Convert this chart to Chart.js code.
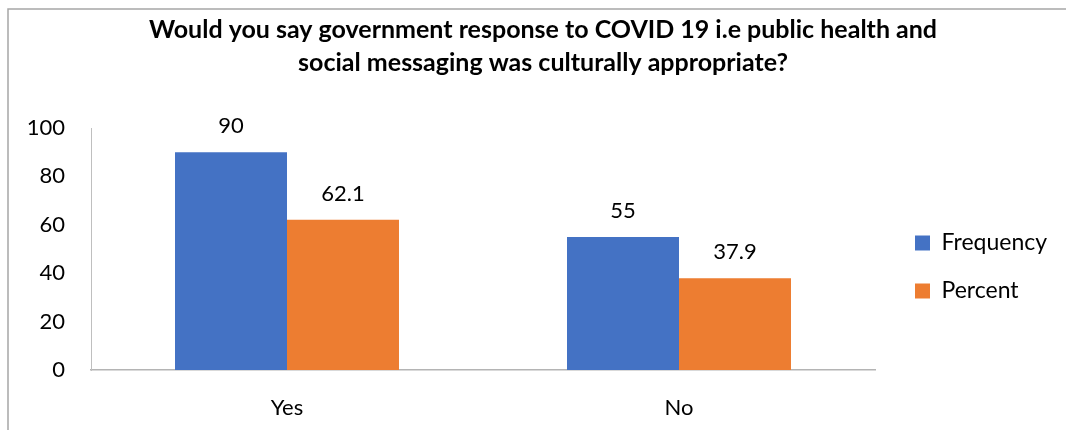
<!DOCTYPE html>
<html lang="en">
<head>
  <meta charset="UTF-8" />
  <title>Culturally appropriate COVID 19 response</title>
  <style>
    * { box-sizing: border-box; margin: 0; padding: 0; }
    body { background: #fff; width: 1066px; height: 430px; overflow: hidden; }
    #wrap { position: relative; width: 1066px; height: 430px; }
  </style>
</head>
<body>
  <div id="wrap"><canvas id="chart"></canvas></div>

  <script src="https://cdn.jsdelivr.net/npm/chart.js"></script>
  <script>
const categories = ['Yes', 'No'];
const frequency = [90, 55];
const percent = [62.1, 37.9];
const yTicks = [0, 20, 40, 60, 80, 100];

const FONT = 'Lato, "Open Sans", sans-serif';

// grey frame on the top and left edge
const frame = {
  id: 'frame',
  beforeDraw(chart) {
    const ctx = chart.ctx;
    ctx.save();
    ctx.strokeStyle = '#a6a6a6';
    ctx.lineWidth = 1.5;
    ctx.beginPath();
    ctx.moveTo(8, chart.height);
    ctx.lineTo(8, 9);
    ctx.lineTo(chart.width, 9);
    ctx.stroke();
    ctx.restore();
  }
};

// value above every bar
const barValues = {
  id: 'barValues',
  afterDatasetsDraw(chart) {
    const ctx = chart.ctx;
    ctx.save();
    ctx.font = '22px ' + FONT;
    ctx.fillStyle = '#000';
    ctx.textAlign = 'center';
    ctx.textBaseline = 'alphabetic';
    chart.data.datasets.forEach((ds, i) => {
      chart.getDatasetMeta(i).data.forEach((bar, j) => {
        ctx.fillText(String(ds.data[j]), bar.x, bar.y - 19);
      });
    });
    ctx.restore();
  }
};

// legend gets a fixed 191px column, items nudged in and down
const legendColumn = {
  id: 'legendColumn',
  beforeLayout(chart) {
    const lg = chart.legend;
    if (lg && !lg.$fixed) {
      const fit = lg.fit;
      lg.fit = function () { fit.call(this); this.width = 191; };
      lg.$fixed = true;
    }
  },
  afterLayout(chart) {
    const lg = chart.legend;
    lg.left += 15;
    lg.top += 18;
    lg.bottom += 18;
  }
};

new Chart(document.getElementById('chart'), {
  type: 'bar',
  data: {
    labels: categories,
    datasets: [
      { label: 'Frequency', data: frequency, backgroundColor: '#4472c4' },
      { label: 'Percent', data: percent, backgroundColor: '#ed7d31' }
    ]
  },
  options: {
    responsive: true,
    maintainAspectRatio: false,
    animation: false,
    categoryPercentage: 0.5714,
    barPercentage: 1,
    layout: { padding: { left: 20, right: 0, top: 0, bottom: 0 } },
    plugins: {
      tooltip: { enabled: false },
      title: {
        display: true,
        text: ['Would you say government response to COVID 19 i.e public health and',
               'social messaging was culturally appropriate?'],
        color: '#000',
        font: { family: FONT, size: 25, weight: 'bold', lineHeight: '33px' },
        padding: { top: 13.5, bottom: 48.5 }
      },
      legend: {
        position: 'right',
        fullSize: false,
        align: 'center',
        labels: {
          color: '#000',
          font: { family: FONT, size: 23 },
          boxWidth: 15,
          boxHeight: 15,
          padding: 25
        }
      }
    },
    scales: {
      x: {
        grid: { display: false, drawTicks: false },
        border: { display: true, color: '#b4b4b4', width: 1.5 },
        ticks: { color: '#000', font: { family: FONT, size: 22 }, padding: 25 },
        afterFit(scale) { scale.height = 60; }
      },
      y: {
        min: 0,
        max: 100,
        grid: { display: false, drawTicks: false },
        border: { display: true, color: '#bfbfbf', width: 1 },
        afterBuildTicks(scale) { scale.ticks = yTicks.map(v => ({ value: v })); },
        ticks: { color: '#000', font: { family: FONT, size: 22 }, padding: 26 },
        afterFit(scale) { scale.width = 71; }
      }
    }
  },
  plugins: [frame, barValues, legendColumn]
});
  </script>
</body>
</html>
